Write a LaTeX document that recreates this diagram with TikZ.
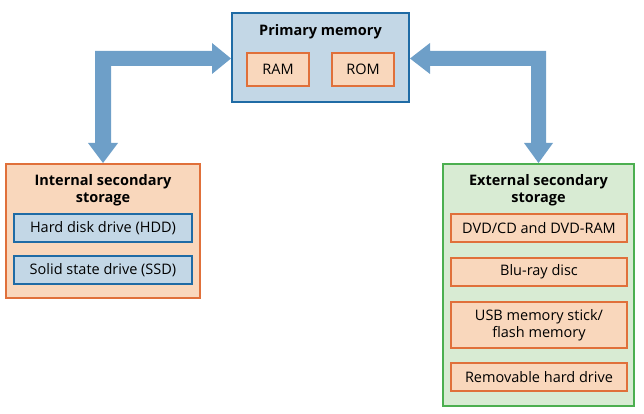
\documentclass[tikz,border=0pt]{standalone}
\usepackage{fontspec}
\setmainfont{Open Sans}
\definecolor{bfill}{HTML}{C3D7E6}
\definecolor{bline}{HTML}{1F6BA5}
\definecolor{ofill}{HTML}{F9D7BC}
\definecolor{oline}{HTML}{E0703A}
\definecolor{gfill}{HTML}{D8EBD3}
\definecolor{gline}{HTML}{4CAF50}
\definecolor{arr}{HTML}{6E9FC8}
\begin{document}
\begin{tikzpicture}[x=1pt,y=-1pt,
  outer/.style={draw, line width=2pt, rectangle, inner sep=0pt},
  inner/.style={draw, line width=1.6pt, rectangle, inner sep=0pt, font=\fontsize{14.5}{17}\selectfont, align=center},
  ttl/.style={font=\fontsize{14.5}{17}\selectfont\bfseries, align=center, inner sep=0pt},
  bigarrow/.style={fill=arr, draw=none}]
\useasboundingbox (0,0) rectangle (644,414);
% boxes
\node[outer, fill=bfill, draw=bline, minimum width=177pt, minimum height=89pt] (pm) at (320.5,57.5) {};
\node[ttl] (pmt) at (320.5,32) {Primary memory};
\node[inner, fill=ofill, draw=oline, minimum width=62pt, minimum height=33pt] (ram) at (278,69.5) {RAM};
\node[inner, fill=ofill, draw=oline, minimum width=62pt, minimum height=33pt] (rom) at (363,69.5) {ROM};

\node[outer, fill=ofill, draw=oline, minimum width=194pt, minimum height=134pt] (int) at (103,231) {};
\node[ttl] (intt) at (103,190.5) {Internal secondary\\storage};
\node[inner, fill=bfill, draw=bline, minimum width=178pt, minimum height=28pt] (hdd) at (103,228) {Hard disk drive (HDD)};
\node[inner, fill=bfill, draw=bline, minimum width=178pt, minimum height=28pt] (ssd) at (103,270) {Solid state drive (SSD)};

\node[outer, fill=gfill, draw=gline, minimum width=191pt, minimum height=242pt] (ext) at (538.5,285) {};
\node[ttl] (extt) at (538.5,190.5) {External secondary\\storage};
\node[inner, fill=ofill, draw=oline, minimum width=176pt, minimum height=28pt] (dvd) at (539,228) {DVD/CD and DVD-RAM};
\node[inner, fill=ofill, draw=oline, minimum width=176pt, minimum height=28pt] (blu) at (539,272) {Blu-ray disc};
\node[inner, fill=ofill, draw=oline, minimum width=176pt, minimum height=46pt] (usb) at (539,325) {USB memory stick/\\flash memory};
\node[inner, fill=ofill, draw=oline, minimum width=176pt, minimum height=28pt] (rem) at (539,377) {Removable hard drive};

% block arrows
\fill[bigarrow] (95,51) -- (212,51) -- (212,43) -- (pm.west |- 0,58.5) -- (212,74) -- (212,66)
  -- (111,66) -- (111,143) -- (118,143) -- (int.north -| 103,0) -- (88,143) -- (95,143) -- cycle;
\fill[bigarrow] (546,51) -- (430,51) -- (430,43) -- (pm.east |- 0,58.5) -- (430,74) -- (430,66)
  -- (531,66) -- (531,143) -- (524,143) -- (ext.north -| 538.5,0) -- (553,143) -- (546,143) -- cycle;
\end{tikzpicture}
\end{document}
